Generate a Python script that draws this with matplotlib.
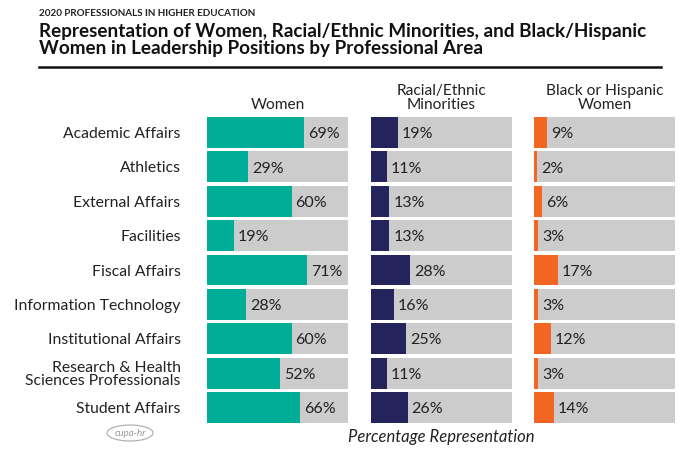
import matplotlib
matplotlib.use("Agg")
import matplotlib.pyplot as plt
from matplotlib.patches import Ellipse

plt.rcParams['font.family'] = ['Lato', 'DejaVu Sans']

areas = ["Academic Affairs", "Athletics", "External Affairs", "Facilities",
         "Fiscal Affairs", "Information Technology", "Institutional Affairs",
         "Research & Health\nSciences Professionals", "Student Affairs"]
women = [69, 29, 60, 19, 71, 28, 60, 52, 66]
minorities = [19, 11, 13, 13, 28, 16, 25, 11, 26]
black_hispanic = [9, 2, 6, 3, 17, 3, 12, 3, 14]

panels = [("Women", women, "#00AE97"),
          ("Racial/Ethnic\nMinorities", minorities, "#25235B"),
          ("Black or Hispanic\nWomen", black_hispanic, "#F26522")]

W, H = 700, 469
fig = plt.figure(figsize=(W / 100, H / 100), dpi=100)

# panel geometry in pixels (left, width), vertical span 117..423
lefts = [207, 371, 534]
pw = 141
top, bot = 117, 423

for k, (title, vals, col) in enumerate(panels):
    ax = fig.add_axes([lefts[k] / W, 1 - bot / H, pw / W, (bot - top) / H])
    ys = list(range(len(areas)))
    ax.barh(ys, [100] * len(ys), height=0.9, color="#CCCCCC")
    ax.barh(ys, vals, height=0.9, color=col)
    for y, v in zip(ys, vals):
        ax.text(v + 2.8, y + 0.05, f"{v}%", va="center", ha="left",
                fontsize=11.5, color="#222222")
    ax.set_xlim(0, 100)
    ax.set_ylim(8.45, -0.45)
    ax.set_xticks([])
    for s in ax.spines.values():
        s.set_visible(False)
    if k == 0:
        ax.set_yticks(ys)
        ax.set_yticklabels(areas, fontsize=11.3, color="#222222", linespacing=0.95)
        ax.tick_params(axis="y", length=0, pad=19)
    else:
        ax.set_yticks([])
    ax.annotate(title, xy=(0.5, 1), xycoords="axes fraction", xytext=(0, 3.5),
                textcoords="offset points", ha="center", va="bottom",
                fontsize=11.2, color="#222222", linespacing=1.05)

fig.text(39 / W, 1 - 16 / H, "2020 PROFESSIONALS IN HIGHER EDUCATION",
         fontsize=7.1, fontweight="bold", color="#222222", ha="left", va="baseline")
fig.text(39 / W, 1 - 37 / H, "Representation of Women, Racial/Ethnic Minorities, and Black/Hispanic",
         fontsize=13.6, fontweight="bold", color="#111111", ha="left", va="baseline")
fig.text(39 / W, 1 - 54 / H, "Women in Leadership Positions by Professional Area",
         fontsize=13.6, fontweight="bold", color="#111111", ha="left", va="baseline")
fig.add_artist(plt.Line2D([39 / W, 661 / W], [1 - 67 / H, 1 - 67 / H],
                          color="#111111", linewidth=1.8))

fig.text(441 / W, 1 - 437 / H, "Percentage Representation", fontsize=12,
         style="italic", color="#222222", ha="center", va="center")

# cupa-hr logo
fig.add_artist(Ellipse((130 / W, 1 - 433 / H), 46 / W, 16 / H, fill=False,
                       edgecolor="#AAAAAA", linewidth=0.8))
fig.text(130 / W, 1 - 433 / H, "cupa-hr", fontsize=7, style="italic",
         color="#999999", ha="center", va="center")

fig.savefig("out.png", dpi=100)
